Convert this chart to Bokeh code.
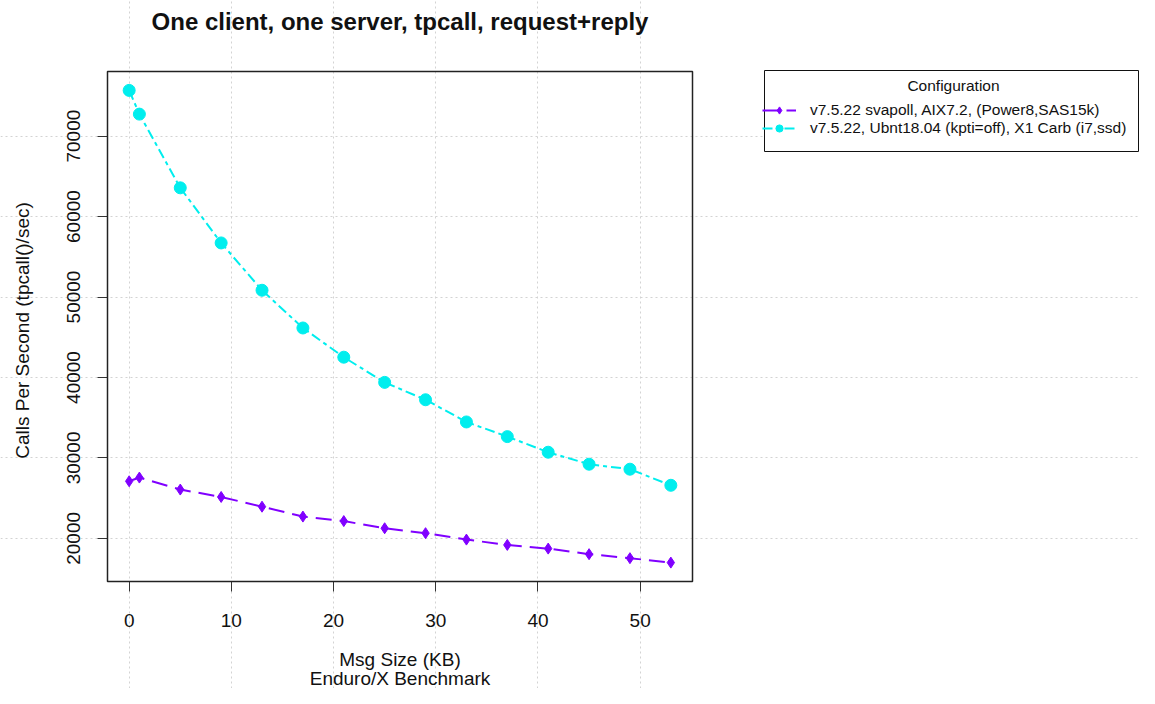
import math
from bokeh.plotting import figure
from bokeh.models import (Range1d, LinearAxis, FixedTicker, BoxAnnotation, Legend,
                          LegendItem, Label)
from bokeh.embed import file_html
from bokeh.resources import INLINE

# ---------------- data ----------------
msg_size_kb = [0, 1, 5, 9, 13, 17, 21, 25, 29, 33, 37, 41, 45, 49, 53]
aix_power8 = [27100, 27560, 26070, 25150, 23940, 22710, 22150, 21260, 20650,
              19850, 19190, 18730, 18040, 17540, 16990]
ubnt_x1carb = [75680, 72730, 63570, 56720, 50840, 46150, 42520, 39390, 37230,
               34470, 32650, 30710, 29220, 28600, 26600]
series_labels = ["v7.5.22 svapoll, AIX7.2, (Power8,SAS15k)",
                 "v7.5.22, Ubnt18.04 (kpti=off), X1 Carb (i7,ssd)"]
x_ticks = [0, 10, 20, 30, 40, 50]
y_ticks = [20000, 30000, 40000, 50000, 60000, 70000]
title_text = "One client, one server, tpcall, request+reply"
x_label_lines = ["Msg Size (KB)", "Enduro/X Benchmark"]
y_label = "Calls Per Second (tpcall()/sec)"
legend_title = "Configuration"

# ---------------- layout ----------------
W, H = 1139, 688
BOX_L, BOX_R, BOX_T, BOX_B = 107, 692, 71, 581   # plot box in canvas px
LEG_L, LEG_R, LEG_T, LEG_B = 764, 1138, 70, 151  # legend box in canvas px
FONT = "Liberation Sans"
PURPLE = "#8000FF"
CYAN = "#00EEEE"
TXT = "#111111"

allx = msg_size_kb
ally = aix_power8 + ubnt_x1carb
xlo = min(allx) - 0.04 * (max(allx) - min(allx))
xhi = max(allx) + 0.04 * (max(allx) - min(allx))
ylo = min(ally) - 0.04 * (max(ally) - min(ally))
yhi = max(ally) + 0.04 * (max(ally) - min(ally))
pxx = (BOX_R - BOX_L) / (xhi - xlo)
pxy = (BOX_B - BOX_T) / (yhi - ylo)
x0 = xlo - BOX_L / pxx
y0 = ylo - (H - BOX_B) / pxy
x_range = Range1d(x0, xhi + (W - BOX_R) / pxx)
y_range = Range1d(y0, yhi + BOX_T / pxy)


def X(px):  # canvas px (from left) -> data x
    return x0 + px / pxx


def Y(py):  # canvas px (from top) -> data y
    return y0 + (H - py) / pxy


p = figure(width=W, height=H, x_range=x_range, y_range=y_range,
           x_axis_location=None, y_axis_location=None,
           toolbar_location=None, output_backend="svg", title=None,
           min_border=0, outline_line_color=None, background_fill_color="white",
           border_fill_color="white")

# grid across the whole canvas
p.xgrid.ticker = FixedTicker(ticks=x_ticks)
p.ygrid.ticker = FixedTicker(ticks=y_ticks)
for g in (p.xgrid, p.ygrid):
    g.grid_line_color = "#d3d3d3"
    g.grid_line_dash = "2 3"
    g.grid_line_width = 1

# axes fixed to the plot box
xaxis = LinearAxis(fixed_location=ylo, ticker=FixedTicker(ticks=x_ticks))
yaxis = LinearAxis(fixed_location=xlo, ticker=FixedTicker(ticks=y_ticks))
for ax in (xaxis, yaxis):
    ax.axis_line_color = None
    ax.major_tick_in = 0
    ax.major_tick_out = 10
    ax.major_tick_line_color = "#333333"
    ax.major_tick_line_width = 1
    ax.minor_tick_line_color = None
    ax.major_label_text_font = FONT
    ax.major_label_text_font_size = "19px"
    ax.major_label_text_color = TXT
xaxis.major_label_standoff = 22
yaxis.major_label_orientation = "vertical"
yaxis.major_label_standoff = 17
p.add_layout(xaxis, "below")
p.add_layout(yaxis, "left")

# plot box
p.add_layout(BoxAnnotation(left=xlo, right=xhi, bottom=ylo, top=yhi,
                           fill_alpha=0, line_color="#222222", line_alpha=1,
                           line_width=1.5))

# legend frame (white, drawn below the legend entries)
p.add_layout(BoxAnnotation(left=X(LEG_L), right=X(LEG_R), top=Y(LEG_T),
                           bottom=Y(LEG_B), fill_color="white", fill_alpha=1,
                           line_color="#111111", line_alpha=1, line_width=1))
p.add_layout(Label(x=X((LEG_L + LEG_R) / 2 + 2), y=Y(85), text=legend_title,
                   text_align="center", text_baseline="middle",
                   text_font=FONT, text_font_size="15.5px", text_color=TXT))

# series
l1 = p.line(msg_size_kb, aix_power8, line_color=PURPLE, line_width=2,
            line_dash="16 8")
s1 = p.scatter(msg_size_kb, aix_power8, marker="diamond", size=11,
               fill_color=PURPLE, line_color=PURPLE)
l2 = p.line(msg_size_kb, ubnt_x1carb, line_color=CYAN, line_width=2,
            line_dash="10 4 4 4")
s2 = p.scatter(msg_size_kb, ubnt_x1carb, marker="circle", size=12,
               fill_color=CYAN, line_color=CYAN)

legend = Legend(items=[LegendItem(label=series_labels[0], renderers=[l1, s1]),
                       LegendItem(label=series_labels[1], renderers=[l2, s2])],
                location=(LEG_L - 2, H - 137), title=" ",
                title_text_font_size="13px", title_standoff=4, padding=8,
                spacing=0, glyph_width=34, glyph_height=18, label_height=18,
                label_standoff=14, label_text_line_height=1.0,
                label_text_font=FONT, label_text_font_size="15.5px",
                label_text_color=TXT, border_line_color=None,
                background_fill_alpha=0, margin=0)
p.add_layout(legend)

# main title
p.add_layout(Label(x=X((BOX_L + BOX_R) / 2), y=Y(21), text=title_text,
                   text_align="center", text_baseline="middle", text_font=FONT,
                   text_font_size="24px", text_font_style="bold", text_color=TXT))
# axis titles
for i, line in enumerate(x_label_lines):
    p.add_layout(Label(x=X((BOX_L + BOX_R) / 2), y=Y(659 + 19 * i), text=line,
                       text_align="center", text_baseline="middle",
                       text_font=FONT, text_font_size="19px", text_color=TXT))
p.add_layout(Label(x=X(22), y=Y(330), text=y_label, angle=math.pi / 2,
                   text_align="center", text_baseline="middle", text_font=FONT,
                   text_font_size="19px", text_color=TXT))

open("out.html", "w").write(file_html(p, INLINE))
